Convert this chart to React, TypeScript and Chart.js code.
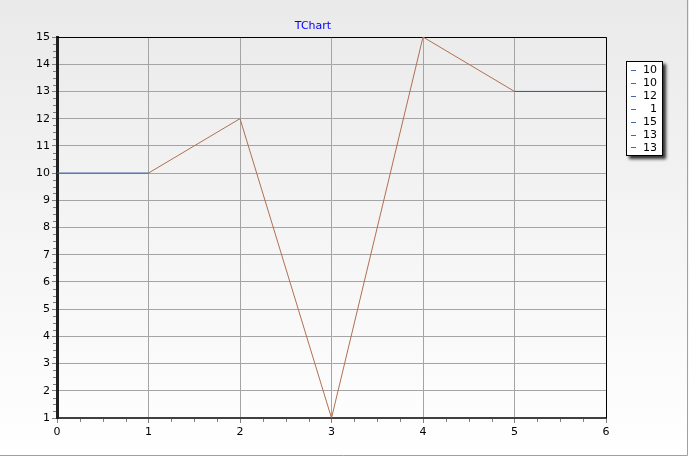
import { useEffect, useRef } from "react";
import { Chart, registerables } from "chart.js";

Chart.register(...registerables);

const xValues = [0, 1, 2, 3, 4, 5, 6];
const yValues = [10, 10, 12, 1, 15, 13, 13];
const legendLabels = yValues.map((v) => String(v));
const titleText = "TChart";
const xMin = 0;
const xMax = 6;
const yMin = 1;
const yMax = 15;

const FONT = "DejaVu Sans";

const decorPlugin = {
  id: "decor",
  beforeDraw(chart: any) {
    const { ctx, width, height } = chart;
    ctx.save();
    const g = ctx.createLinearGradient(0, 0, 0, height);
    g.addColorStop(0, "#eaeaea");
    g.addColorStop(1, "#ffffff");
    ctx.fillStyle = g;
    ctx.fillRect(0, 0, width, height);
    ctx.strokeStyle = "#a0a0a0";
    ctx.lineWidth = 1;
    ctx.beginPath();
    ctx.moveTo(width - 1.5, 0);
    ctx.lineTo(width - 1.5, height - 1.5);
    ctx.lineTo(0, height - 1.5);
    ctx.stroke();
    ctx.restore();
  },
  beforeDatasetsDraw(chart: any) {
    const { ctx, chartArea } = chart;
    const xs = chart.scales.x;
    const ys = chart.scales.y;
    ctx.save();
    ctx.strokeStyle = "#000000";
    ctx.lineWidth = 1;
    ctx.beginPath();
    ctx.moveTo(chartArea.left, Math.round(chartArea.top) + 0.5);
    ctx.lineTo(Math.round(chartArea.right) + 0.5, Math.round(chartArea.top) + 0.5);
    ctx.lineTo(Math.round(chartArea.right) + 0.5, chartArea.bottom);
    ctx.stroke();
    ctx.strokeStyle = "#808080";
    ctx.beginPath();
    for (let i = xMin; i < xMax; i++) {
      for (let k = 1; k < 4; k++) {
        const px = Math.round(xs.getPixelForValue(i + k / 4)) + 0.5;
        ctx.moveTo(px, chartArea.bottom + 1);
        ctx.lineTo(px, chartArea.bottom + 4);
      }
    }
    for (let i = yMin; i < yMax; i++) {
      for (let k = 1; k < 4; k++) {
        const py = Math.round(ys.getPixelForValue(i + k / 4)) + 0.5;
        ctx.moveTo(chartArea.left - 4, py);
        ctx.lineTo(chartArea.left - 1, py);
      }
    }
    ctx.stroke();
    ctx.restore();
  },
  afterDraw(chart: any) {
    const { ctx } = chart;
    ctx.save();
    ctx.fillStyle = "#0000ff";
    ctx.font = `11px "${FONT}"`;
    ctx.textAlign = "center";
    ctx.textBaseline = "middle";
    ctx.fillText(titleText, 313, 26);
    const lx = 626, ly = 61, lw = 37, lh = 95;
    ctx.save();
    ctx.shadowColor = "rgba(0,0,0,0.8)";
    ctx.shadowOffsetX = 3;
    ctx.shadowOffsetY = 3;
    ctx.shadowBlur = 3;
    ctx.fillStyle = "#ffffff";
    ctx.fillRect(lx, ly, lw, lh);
    ctx.restore();
    ctx.strokeStyle = "#000000";
    ctx.lineWidth = 1;
    ctx.strokeRect(lx + 0.5, ly + 0.5, lw - 1, lh - 1);
    ctx.font = `11px "${FONT}"`;
    ctx.textAlign = "right";
    ctx.textBaseline = "middle";
    legendLabels.forEach((t, i) => {
      const y = 70 + i * 12.9;
      ctx.strokeStyle = "#4466aa";
      ctx.beginPath();
      ctx.moveTo(631, Math.round(y) + 0.5);
      ctx.lineTo(636, Math.round(y) + 0.5);
      ctx.stroke();
      ctx.fillStyle = "#000000";
      ctx.fillText(t, 657, y + 0.5);
    });
    ctx.restore();
  },
};

export default function App() {
  const ref = useRef<HTMLCanvasElement>(null);
  useEffect(() => {
    if (!ref.current) return;
    Chart.defaults.font.family = FONT;
    Chart.defaults.font.size = 11;
    Chart.defaults.color = "#000000";
    const chart = new Chart(ref.current, {
      type: "line",
      data: {
        datasets: [
          {
            data: xValues.map((x, i) => ({ x, y: yValues[i] })),
            borderWidth: 1,
            borderColor: "#b07050",
            pointRadius: 0,
            tension: 0,
            segment: {
              borderColor: (c: any) =>
                c.p0.parsed.y === c.p1.parsed.y ? "#34579c" : "#b07050",
            },
          },
        ],
      },
      options: {
        animation: false,
        responsive: false,
        devicePixelRatio: 1,
        layout: { padding: { left: 0, top: 37, right: 83, bottom: 0 } },
        plugins: {
          legend: { display: false },
          title: { display: false },
          tooltip: { enabled: false },
        },
        scales: {
          x: {
            type: "linear",
            min: xMin,
            max: xMax,
            afterFit: (s: any) => {
              s.height = 39;
            },
            ticks: { stepSize: 1, padding: 3, maxRotation: 0, color: "#000000" },
            grid: { color: "#a4a4a4", tickLength: 5, tickColor: "#808080" },
            border: { color: "#404040", width: 2 },
          },
          y: {
            type: "linear",
            min: yMin,
            max: yMax,
            afterFit: (s: any) => {
              s.width = 57;
            },
            ticks: { stepSize: 1, padding: 2, color: "#000000" },
            grid: { color: "#a4a4a4", tickLength: 5, tickColor: "#808080" },
            border: { color: "#202020", width: 3 },
          },
        },
      },
      plugins: [decorPlugin],
    } as any);
    return () => chart.destroy();
  }, []);
  return (
    <div style={{ position: "absolute", left: 0, top: 0, width: 689, height: 457 }}>
      <canvas ref={ref} width={689} height={457} />
    </div>
  );
}
